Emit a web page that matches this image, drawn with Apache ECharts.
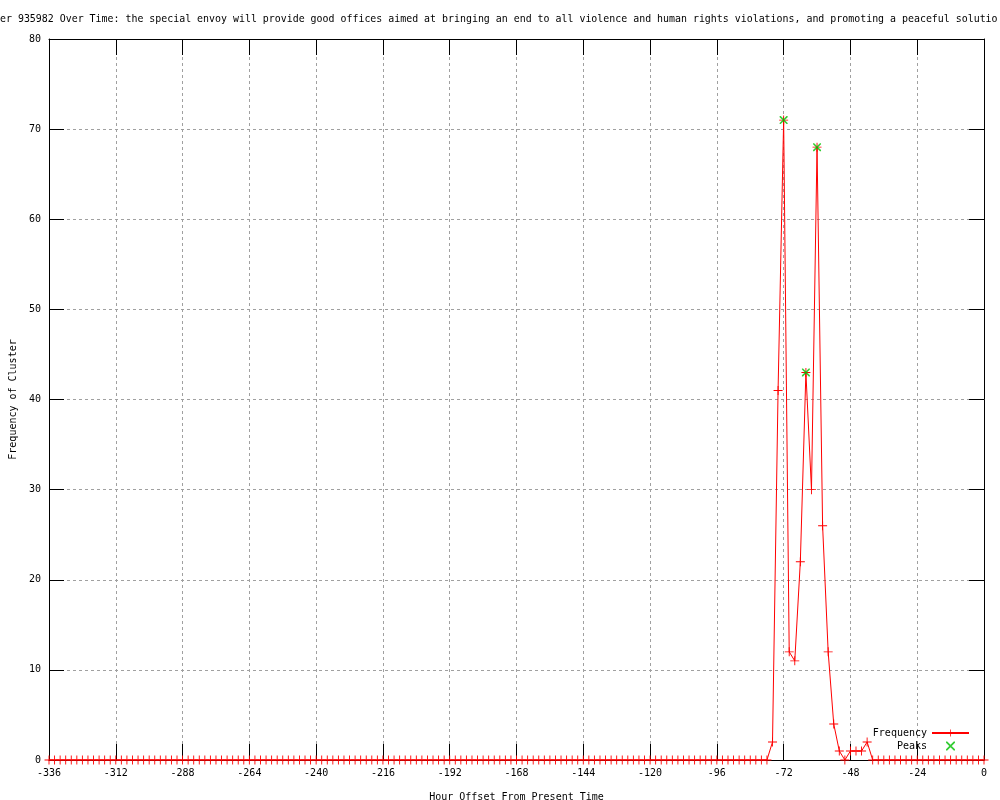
<!DOCTYPE html>
<html>
<head>
<meta charset="utf-8">
<script src="https://cdn.jsdelivr.net/npm/echarts@6/dist/echarts.min.js"></script>
<style>html,body{margin:0;padding:0;background:#fff}#c{width:1000px;height:800px}</style>
</head>
<body>
<div id="c"></div>
<script>
// Hours with non-zero frequency (all other 2-hour steps from -336 to 0 are 0)
const activeHours = [-76, -74, -72, -70, -68, -66, -64, -62, -60, -58, -56, -54, -52, -50, -48, -46, -44, -42];
const activeValues = [2, 41, 71, 12, 11, 22, 43, 30, 68, 26, 12, 4, 1, 0, 1, 1, 1, 2];
const peakHours = [-72, -64, -60];
const peakValues = [71, 43, 68];
const xTicks = [-336, -312, -288, -264, -240, -216, -192, -168, -144, -120, -96, -72, -48, -24, 0];
const yTicks = [0, 10, 20, 30, 40, 50, 60, 70, 80];
const titleText = "er 935982 Over Time: the special envoy will provide good offices aimed at bringing an end to all violence and human rights violations, and promoting a peaceful solutio";

const freqData = [];
for (let h = -336; h <= 0; h += 2) {
  const i = activeHours.indexOf(h);
  freqData.push([h, i >= 0 ? activeValues[i] : 0]);
}
const peakData = peakHours.map((h, i) => [h, peakValues[i]]);

const FONT = "DejaVu Sans Mono";
const plus = 'path://M0,4.5H10V5.5H0Z M4.5,0H5.5V10H4.5Z';
const cross = 'path://M0,0H1.4L10,8.6V10H8.6L0,1.4Z M8.6,0H10V1.4L1.4,10H0V8.6Z';

const chart = echarts.init(document.getElementById('c'), null, {renderer: 'canvas'});
const txt = {fontFamily: FONT, fontSize: 10, color: '#000'};
const grid = {show: true, lineStyle: {color: '#a0a0a0', type: [3, 3], width: 1}};
function axis(extra) {
  return Object.assign({
    type: 'value',
    axisLine: {show: true, onZero: false, lineStyle: {color: '#000', width: 1}},
  }, extra);
}
chart.setOption({
  animation: false,
  backgroundColor: '#fff',
  title: {
    text: titleText,
    left: 0, top: 14, padding: 0,
    textStyle: {fontFamily: FONT, fontSize: 9.93, fontWeight: 'normal', color: '#000'}
  },
  grid: {left: 49, right: 16, top: 39, bottom: 40, show: false, containLabel: false, outerBoundsMode: 'none'},
  legend: {
    orient: 'vertical', right: 30, top: 728, align: 'right', padding: 0,
    itemWidth: 37, itemHeight: 9, itemGap: 3,
    textStyle: txt,
    data: [
      {name: 'Frequency'},
      {name: 'Peaks', icon: cross}
    ]
  },
  xAxis: [
    axis({
      min: -336, max: 0, interval: 24, position: 'bottom',
      name: 'Hour Offset From Present Time', nameLocation: 'middle', nameGap: 32,
      nameTextStyle: txt,
      axisTick: {show: true, inside: true, length: 16, lineStyle: {color: '#000'}},
      axisLabel: Object.assign({margin: 8}, txt),
      splitLine: grid
    }),
    axis({
      min: -336, max: 0, interval: 24, position: 'top',
      axisTick: {show: true, inside: true, length: 16, lineStyle: {color: '#000'}},
      axisLabel: {show: false}, splitLine: {show: false}
    })
  ],
  yAxis: [
    axis({
      min: 0, max: 80, interval: 10, position: 'left',
      name: 'Frequency of Cluster', nameLocation: 'middle', nameGap: 30, nameRotate: 90,
      nameTextStyle: txt,
      axisTick: {show: true, inside: true, length: 15, lineStyle: {color: '#000'}},
      axisLabel: Object.assign({margin: 8}, txt),
      splitLine: grid
    }),
    axis({
      min: 0, max: 80, interval: 10, position: 'right',
      axisTick: {show: true, inside: true, length: 15, lineStyle: {color: '#000'}},
      axisLabel: {show: false}, splitLine: {show: false}
    })
  ],
  series: [
    {
      name: 'Frequency', type: 'line', data: freqData,
      xAxisIndex: 0, yAxisIndex: 0,
      symbol: plus, symbolSize: 9, showAllSymbol: true,
      lineStyle: {color: '#ff0000', width: 1},
      itemStyle: {color: '#ff0000'},
      z: 3
    },
    {
      name: 'Peaks', type: 'scatter', data: peakData,
      xAxisIndex: 0, yAxisIndex: 0,
      symbol: cross, symbolSize: 8,
      itemStyle: {color: '#00c000'},
      z: 4
    }
  ]
});
</script>
</body>
</html>
